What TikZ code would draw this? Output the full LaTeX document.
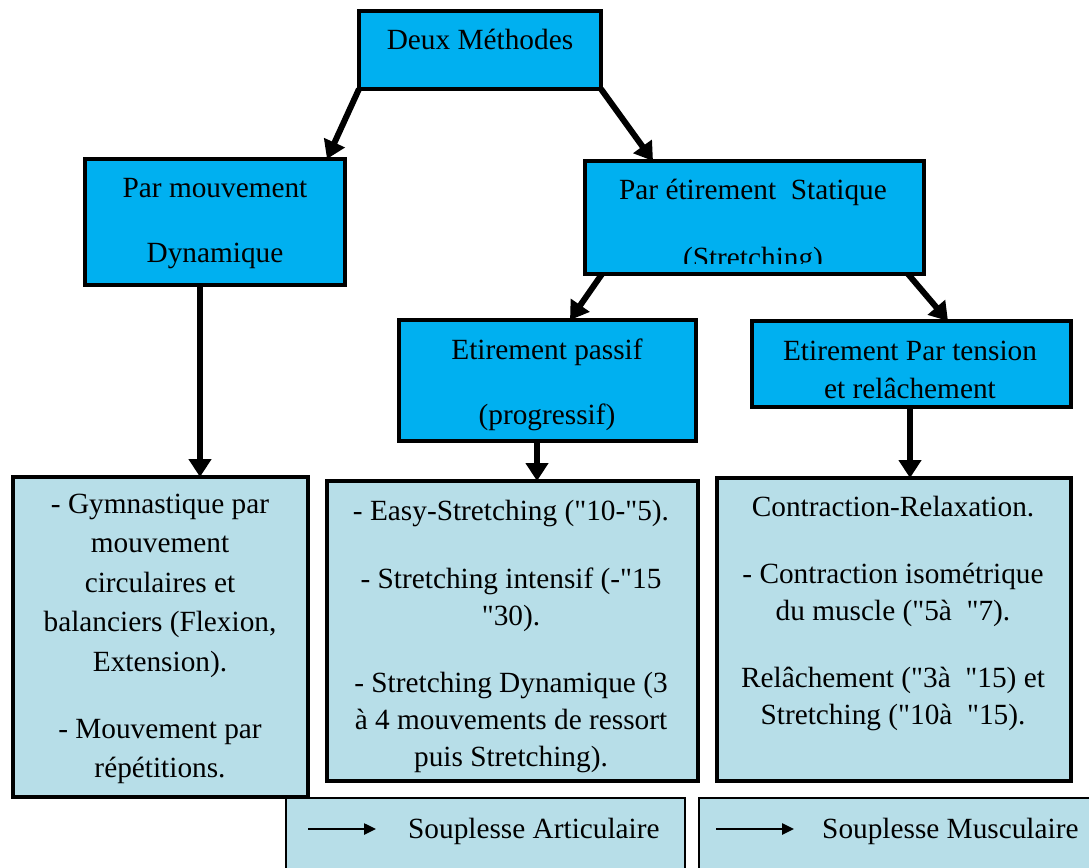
\documentclass[tikz,border=0pt]{standalone}
\usepackage{fontspec}
\setmainfont{Liberation Serif}[Ligatures=TeXOff]
\usetikzlibrary{arrows.meta}
\definecolor{cyanbox}{HTML}{00B0F0}
\definecolor{palebox}{HTML}{B7DEE8}
\begin{document}
\begin{tikzpicture}[x=1pt,y=-1pt,
  bluebox/.style={draw=black, line width=4pt, fill=cyanbox, inner sep=0pt, outer sep=0pt},
  palebx/.style={draw=black, line width=4pt, fill=palebox, inner sep=0pt, outer sep=0pt},
  legbox/.style={draw=black, line width=2pt, fill=palebox, inner sep=0pt, outer sep=0pt},
  link/.style={line width=6pt, -{Triangle[length=18pt,width=22pt]}},
  leglink/.style={line width=2.5pt, -{Triangle[length=12pt,width=11pt]}},
  txt/.style={inner sep=0pt, anchor=base, font=\fontsize{29.3}{37}\selectfont},
]
\useasboundingbox (0,0) rectangle (1089,867);

% boxes
\node[bluebox, minimum width=242pt, minimum height=78pt] (m) at (480,50) {};
\node[bluebox, minimum width=260pt, minimum height=126pt] (pm) at (215,222) {};
\node[bluebox, minimum width=339pt, minimum height=113pt] (pe) at (754.5,217.5) {};
\node[bluebox, minimum width=297pt, minimum height=121pt] (pp) at (547.5,380.5) {};
\node[bluebox, minimum width=319pt, minimum height=86pt] (pt) at (911.5,364) {};
\node[palebx, minimum width=295pt, minimum height=320pt] (g) at (160.5,637) {};
\node[palebx, minimum width=371pt, minimum height=300pt] (s) at (512.5,631) {};
\node[palebx, minimum width=354pt, minimum height=303pt] (r) at (894,629.5) {};
\node[legbox, minimum width=399pt, minimum height=100pt] (la) at (485.5,848) {};
\node[legbox, minimum width=400pt, minimum height=100pt] (lb) at (899,848) {};

% texts
\node[txt] (tm) at (480,50) {Deux Méthodes};
\node[txt] (tpm) at (215,197) {\begin{tabular}[t]{@{}c@{}}Par mouvement\\[28pt]Dynamique\end{tabular}};
\begin{scope}
\clip (585,161) rectangle (924,263);
\node[txt] (tpe) at (753,199) {\begin{tabular}[t]{@{}c@{}}Par étirement\ \ Statique\\[31pt](Stretching)\end{tabular}};
\end{scope}
\node[txt] (tpp) at (547,359) {\begin{tabular}[t]{@{}c@{}}Etirement passif\\[28pt](progressif)\end{tabular}};
\node[txt] (tpt) at (910,360) {\begin{tabular}[t]{@{}c@{}}Etirement Par tension\\[1pt]et relâchement\end{tabular}};

\node[txt, font=\fontsize{29.3}{39.5}\selectfont] (tg) at (160,513) {\begin{tabular}[t]{@{}c@{}}- Gymnastique par\\mouvement\\circulaires et\\balanciers (Flexion,\\Extension).\\[27.5pt]- Mouvement par\\répétitions.\end{tabular}};
\node[txt] (ts) at (511,520) {\begin{tabular}[t]{@{}c@{}}- Easy-Stretching ("10-"5).\\[31pt]- Stretching intensif (-"15\\"30).\\[30pt]- Stretching Dynamique (3\\à 4 mouvements de ressort\\puis Stretching).\end{tabular}};
\node[txt] (tr) at (893,516) {\begin{tabular}[t]{@{}c@{}}Contraction-Relaxation.\\[30pt]- Contraction isométrique\\du muscle ("5à~ "7).\\[30pt]Relâchement ("3à~ "15) et\\Stretching ("10à~ "15).\end{tabular}};

% legend
\coordinate (a1s) at (308,829);
\coordinate (a1e) at (376,829);
\draw[leglink] (a1s) -- (a1e);
\node[txt, anchor=base west] (lat) at (408,838) {Souplesse Articulaire};
\coordinate (a2s) at (716,829);
\coordinate (a2e) at (794,829);
\draw[leglink] (a2s) -- (a2e);
\node[txt, anchor=base west] (lbt) at (822,838) {Souplesse Musculaire};

% connectors
\draw[link] (m.south west) -- ([xshift=-18pt]pm.north east);
\draw[link] (m.south east) -- ([xshift=68pt]pe.north west);
\draw[link] ([xshift=17pt]pe.south west) -- ([xshift=171pt]pp.north west);
\draw[link] ([xshift=-16pt]pe.south east) -- ([xshift=196pt]pt.north west);
\draw[link] ([xshift=-15pt]pm.south) -- ([xshift=-15pt]pm.south |- g.north);
\draw[link] ([xshift=-10.5pt]pp.south) -- ([xshift=-10.5pt]pp.south |- s.north);
\draw[link] ([xshift=-1.5pt]pt.south) -- ([xshift=-1.5pt]pt.south |- r.north);
\end{tikzpicture}
\end{document}
